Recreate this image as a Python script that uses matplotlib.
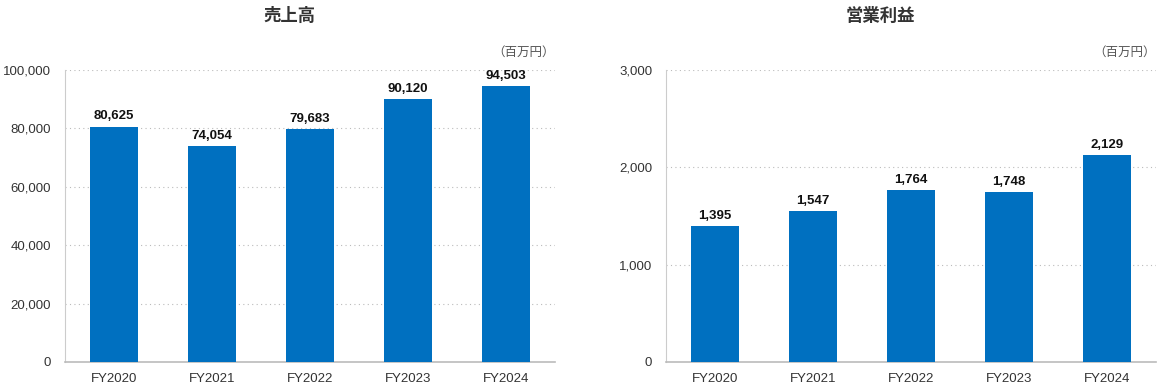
import matplotlib.pyplot as plt
from matplotlib import font_manager

years = ["FY2020", "FY2021", "FY2022", "FY2023", "FY2024"]
sales = [80625, 74054, 79683, 90120, 94503]
operating_income = [1395, 1547, 1764, 1748, 2129]

names = {f.name for f in font_manager.fontManager.ttflist}
num_font = "Liberation Sans Narrow" if "Liberation Sans Narrow" in names else "Liberation Sans"
plt.rcParams["font.family"] = [num_font, "Noto Sans CJK JP", "DejaVu Sans"]

BLUE = "#0070C0"

fig = plt.figure(figsize=(11.6, 3.88), dpi=100)


def draw_panel(rect, values, ymax, step, title, title_x):
    ax = fig.add_axes(rect)
    x = range(len(years))
    ax.bar(x, values, width=0.49, color=BLUE, zorder=3)
    ax.set_xlim(-0.5, len(years) - 0.5)
    ax.set_ylim(0, ymax)
    ticks = list(range(0, ymax + 1, step))
    ax.set_yticks(ticks)
    ax.set_yticklabels([f"{t:,}" for t in ticks], fontsize=9.5, color="#333333")
    ax.set_xticks(list(x))
    ax.set_xticklabels(years, fontsize=9.5, color="#333333")
    ax.tick_params(length=0, pad=8)
    ax.tick_params(axis="y", pad=10)
    for t in ticks[1:]:
        ax.axhline(t, color="#bbbbbb", linestyle=(0, (1, 3)), linewidth=0.8, zorder=1)
    for s in ["top", "right"]:
        ax.spines[s].set_visible(False)
    ax.spines["left"].set_color("#cccccc")
    ax.spines["bottom"].set_color("#bbbbbb")
    ax.spines["bottom"].set_linewidth(1.2)
    for xi, v in zip(x, values):
        ax.annotate(f"{v:,}", (xi, v), xytext=(0, 3), textcoords="offset points",
                    ha="center", va="bottom", fontsize=9.5, fontweight="bold", color="#111111")
    ax.text(1.0, 1.04, "（百万円）", transform=ax.transAxes, ha="right", va="bottom",
            fontsize=9, color="#555555", family=["Noto Sans CJK JP", "DejaVu Sans"])
    fig.text(title_x, 0.96, title, ha="center", va="center", fontsize=12.5,
             fontweight="bold", color="#333333", family=["Noto Sans CJK JP", "DejaVu Sans"])
    return ax


draw_panel([65 / 1160, 26 / 388, 490 / 1160, 292 / 388], sales, 100000, 20000, "売上高", 290 / 1160)
draw_panel([666 / 1160, 26 / 388, 490 / 1160, 292 / 388], operating_income, 3000, 1000, "営業利益", 880 / 1160)

fig.savefig("out.png", dpi=100)
plt.close(fig)
